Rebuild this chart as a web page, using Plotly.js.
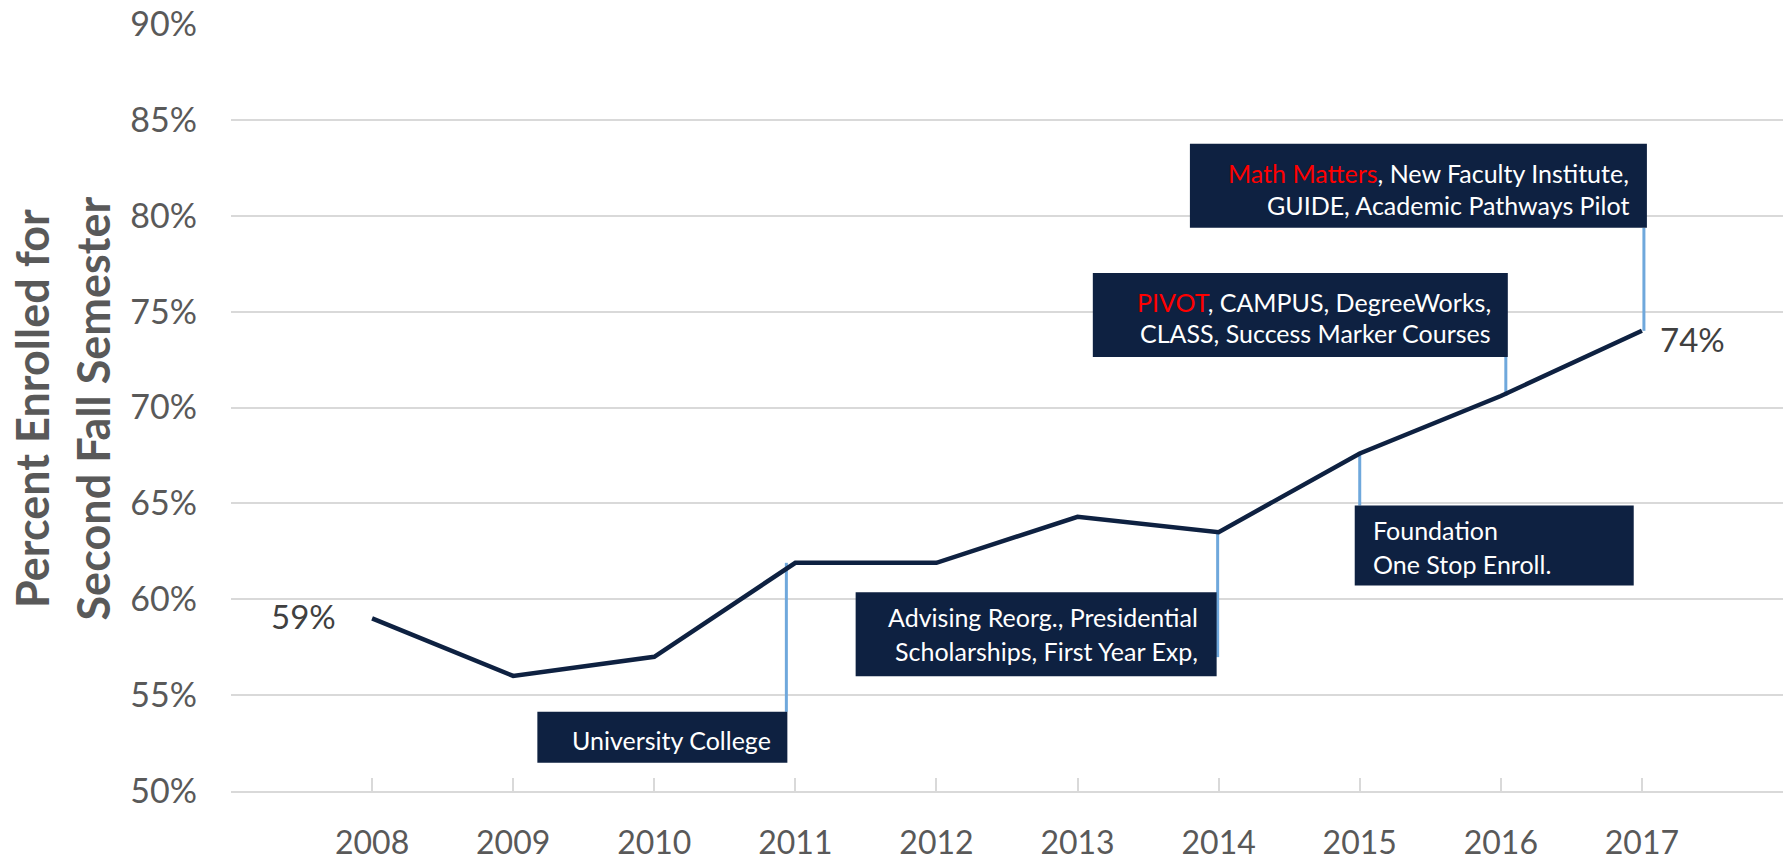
<!DOCTYPE html>
<html><head><meta charset="utf-8">
<script src="https://cdn.plot.ly/plotly-3.0.1.min.js"></script>
<style>html,body{margin:0;padding:0;background:#fff;}#chart{width:1790px;height:862px;}</style>
</head><body><div id="chart"></div>
<script>
// ---- data ----
const years = [2008, 2009, 2010, 2011, 2012, 2013, 2014, 2015, 2016, 2017];
const yearLabels = ['2008', '2009', '2010', '2011', '2012', '2013', '2014', '2015', '2016', '2017'];
const retention = [59, 56, 57, 61.9, 61.9, 64.3, 63.5, 67.6, 70.6, 74];
const yTickValues = [50, 55, 60, 65, 70, 75, 80, 85, 90];
const yTickLabels = ['50%', '55%', '60%', '65%', '70%', '75%', '80%', '85%', '90%'];
const labelledYears = [2008, 2017];
const calloutYears = [2011, 2014, 2015, 2016, 2017];
const calloutLines = [
  ['University College'],
  ['Advising Reorg., Presidential', 'Scholarships, First Year Exp,'],
  ['Foundation', 'One Stop Enroll.'],
  ['PIVOT, CAMPUS, DegreeWorks,', 'CLASS, Success Marker Courses'],
  ['Math Matters, New Faculty Institute,', 'GUIDE, Academic Pathways Pilot']
];
const calloutHighlights = ['', '', '', 'PIVOT', 'Math Matters'];
const yTitleLines = ['Percent Enrolled for', 'Second Fall Semester'];

// ---- styling / placement (pixel offsets from linked data point) ----
const NAVY = '#0e2141';
const CONN = '#6fa8dc';
const GRID = '#d9d9d9';
const callStyle = [
  {box: [-258, -8, -149, -200], align: 'right', tx: -22, ty: [-177], conn: [-9, 0, -149]},
  {box: [-363, -2, -60, -144], align: 'right', tx: -19, ty: [-85, -119], conn: [-1, 0, -125]},
  {box: [-5, 274, -52, -132], align: 'left', tx: 11, ty: [-76, -110], conn: [0, 0, -52]},
  {box: [-408, 7, 123, 39], align: 'right', tx: -8, ty: [94, 63], conn: [5, 39, 0]},
  {box: [-452, 5, 187, 103], align: 'right', tx: -11, ty: [158, 126], conn: [2, 103, 0]}
];
const labelStyle = [
  {xanchor: 'right', xshift: -34, yshift: 2},
  {xanchor: 'left', xshift: 16, yshift: -8}
];

function valueAt(yr) { return retention[years.indexOf(yr)]; }

const shapes = [];
const annotations = [];

calloutYears.forEach((yr, i) => {
  const v = valueAt(yr);
  const s = callStyle[i];
  shapes.push({
    type: 'rect', layer: 'above', xref: 'x', yref: 'y',
    xsizemode: 'pixel', ysizemode: 'pixel', xanchor: yr, yanchor: v,
    x0: s.box[0], x1: s.box[1], y0: s.box[2], y1: s.box[3],
    fillcolor: NAVY, line: {width: 0}
  });
  shapes.push({
    type: 'line', layer: 'between', xref: 'x', yref: 'y',
    xsizemode: 'pixel', ysizemode: 'pixel', xanchor: yr, yanchor: v,
    x0: s.conn[0], x1: s.conn[0], y0: s.conn[1], y1: s.conn[2],
    line: {color: CONN, width: 3}
  });
  calloutLines[i].forEach((line, j) => {
    let txt = line;
    const h = calloutHighlights[i];
    if (h && j === 0 && line.startsWith(h)) {
      txt = '<span style="color:#ff0000">' + h + '</span>' + line.slice(h.length);
    }
    annotations.push({
      xref: 'x', yref: 'y', x: yr, y: v, text: txt, showarrow: false,
      xanchor: s.align, yanchor: 'middle', align: s.align,
      xshift: s.tx, yshift: s.ty[j],
      font: {family: 'Lato, sans-serif', size: 25, color: '#ffffff'}
    });
  });
});

labelledYears.forEach((yr, i) => {
  const v = valueAt(yr);
  annotations.push({
    xref: 'x', yref: 'y', x: yr, y: v, text: v + '%', showarrow: false,
    xanchor: labelStyle[i].xanchor, yanchor: 'middle',
    xshift: labelStyle[i].xshift, yshift: labelStyle[i].yshift,
    font: {family: 'Lato, sans-serif', size: 33, color: '#404040'}
  });
});

[-199.5, -139].forEach((xs, i) => {
  annotations.push({
    xref: 'paper', yref: 'paper', x: 0, y: 0.5, xshift: xs, yshift: -1,
    text: yTitleLines[i], showarrow: false, textangle: -90,
    xanchor: 'center', yanchor: 'middle',
    font: {family: 'Lato, sans-serif', size: 45, color: '#595959', weight: 'bold'}
  });
});

const xTickVals = [years[0] - 1].concat(years, [years[years.length - 1] + 1]);
const xTickText = [''].concat(yearLabels, ['']);

const trace = {
  type: 'scatter', mode: 'lines', x: years, y: retention,
  line: {color: NAVY, width: 4.5}, hoverinfo: 'skip'
};

const layout = {
  width: 1790, height: 862,
  margin: {l: 231, r: 7, t: 24, b: 71},
  paper_bgcolor: '#ffffff', plot_bgcolor: '#ffffff',
  showlegend: false,
  font: {family: 'Lato, sans-serif', color: '#595959'},
  xaxis: {
    type: 'linear', range: [years[0] - 1, years[years.length - 1] + 1],
    tickmode: 'array', tickvals: xTickVals, ticktext: xTickText,
    ticks: 'inside', ticklen: 13, tickwidth: 2, tickcolor: GRID,
    showline: true, linecolor: GRID, linewidth: 2,
    showgrid: false, zeroline: false, fixedrange: true,
    tickfont: {family: 'Lato, sans-serif', size: 32, color: '#595959'},
    ticklabelstandoff: 23
  },
  yaxis: {
    range: [50, 90], tickmode: 'array', tickvals: yTickValues, ticktext: yTickLabels,
    showgrid: true, gridcolor: GRID, gridwidth: 2, zeroline: false,
    showline: false, ticks: '', fixedrange: true,
    tickfont: {family: 'Lato, sans-serif', size: 34, color: '#595959'},
    ticklabelstandoff: 33
  },
  shapes: shapes,
  annotations: annotations
};

Plotly.newPlot('chart', [trace], layout, {displayModeBar: false, staticPlot: true});
</script>
</body></html>
